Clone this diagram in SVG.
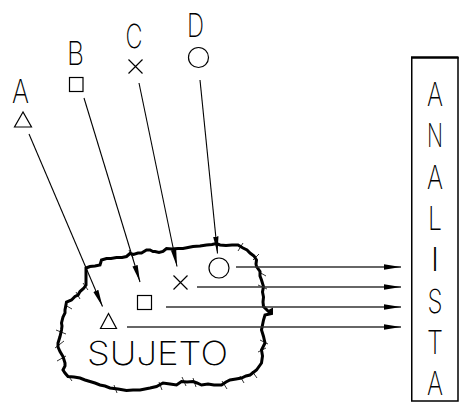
<svg xmlns="http://www.w3.org/2000/svg" width="460" height="406" viewBox="0 0 460 406">
<defs>
<style>
.lbl{font-family:Inter,Lato,"Noto Sans","DejaVu Sans",sans-serif;font-weight:200;font-size:33px;fill:#000;text-anchor:middle}
.tx{opacity:0.995}
.sym{fill:none;stroke:#000;stroke-width:1.2}
.ld{fill:none;stroke:#000;stroke-width:1.1}
.hz{fill:none;stroke:#333;stroke-width:1.3}
.tick{stroke:#000;stroke-width:0.8}
</style>
<marker id="ah" markerWidth="18" markerHeight="8" refX="17" refY="3.5" orient="auto" markerUnits="userSpaceOnUse">
<path d="M0,0.8 L17,3.5 L0,6.2 Z" fill="#000"/>
</marker>
</defs>
<rect width="460" height="406" fill="#fff"/>

<g id="label-A">
<text class="lbl tx" x="20.5" y="103" textLength="17" lengthAdjust="spacingAndGlyphs">A</text>
<polygon class="sym" points="23,112 14.5,127 31.5,127"/>
</g>
<g id="label-B">
<text class="lbl tx" x="75.5" y="65" textLength="17" lengthAdjust="spacingAndGlyphs">B</text>
<rect class="sym" x="69.5" y="77.5" width="13.5" height="14"/>
</g>
<g id="label-C">
<text class="lbl tx" x="134" y="48" textLength="17" lengthAdjust="spacingAndGlyphs">C</text>
<path class="sym" d="M128.5,59.5 L142.5,73.5 M142.5,59.5 L128.5,73.5"/>
</g>
<g id="label-D">
<text class="lbl tx" x="195.5" y="37" textLength="17" lengthAdjust="spacingAndGlyphs">D</text>
<circle class="sym" cx="198.5" cy="57.5" r="10"/>
</g>

<g id="sujeto">
<path fill="none" stroke="#000" stroke-width="3" stroke-linejoin="miter" d="M86,268 L90,266.5 L95,266 L100,265 L101.5,260 L106.5,258.5 L111,258.5 L116.5,257.5 L122,257.5 L126.5,256.5 L130,253.5 L133.5,254.5 L138,253 L141.5,253 L146.5,250 L150,250 L153,251.5 L155,251.5 L159,252.5 L163,251.5 L166.5,248.5 L172,249 L178,248.5 L183,248.5 L188,247.5 L193,246.5 L200,246 L206.5,245 L212,244.5 L216.5,243.5 L220,245 L226,245.5 L232,245 L238,245 L243,248 L247,250 L250,253 L254,256 L256.5,260 L256,264 L256.5,266.5 L260,271.5 L260,276 L261.5,280 L263.5,286.5 L262.5,292 L263.5,297 L263,302 L263.5,306.5 L268.5,311.5 L271.5,310 L271.5,313.5 L265,315 L263.5,320 L262.5,325 L261.5,330 L263.5,336.5 L265,343 L261.5,350 L262.5,356 L261.5,363 L256.5,370 L250,375 L246,376 L241.5,378 L236,379 L230,380 L226,382 L221.5,385 L214,385 L208,384 L201.5,385 L197,383 L193,381.5 L187,382 L181.5,381.5 L176.5,385 L170,384 L163,383 L156.5,386.5 L150,388 L145,389 L140,390 L133,390 L126.5,390.5 L118,389 L110,388 L105,386 L100,385 L95,383 L90,381.5 L85,380 L80,378 L74,377 L68,376.5 L65,373 L63,370 L65,366 L65,363 L63,356.5 L60,351.5 L58,347 L58,343 L60,336.5 L61.5,330 L62,326 L61.5,323 L63,317 L65,313 L65,310 L66.5,302 L71.5,300 L75,296.5 L78,295 L80,291.5 L83.5,288.5 L86,285 L86,276 Z"/>
<g class="tick">
<line x1="238" y1="251" x2="243" y2="243"/>
<line x1="253" y1="260" x2="259" y2="254"/>
<line x1="258" y1="285" x2="267" y2="289"/>
<line x1="259" y1="272" x2="266" y2="276"/>
<line x1="260" y1="340" x2="268" y2="344"/>
<line x1="258" y1="352" x2="266" y2="348"/>
<line x1="252" y1="371" x2="257" y2="378"/>
<line x1="240" y1="376" x2="244" y2="383"/>
<line x1="222" y1="381" x2="227" y2="389"/>
<line x1="193" y1="378" x2="196" y2="387"/>
<line x1="182" y1="377" x2="186" y2="386"/>
<line x1="159" y1="382" x2="162" y2="390"/>
<line x1="114" y1="385" x2="117" y2="393"/>
<line x1="67" y1="374" x2="72" y2="381"/>
<line x1="55" y1="348" x2="64" y2="341"/>
<line x1="57" y1="361" x2="66" y2="356"/>
<line x1="56" y1="330" x2="66" y2="334"/>
<line x1="65" y1="305" x2="72" y2="309"/>
<line x1="76" y1="292" x2="80" y2="299"/>
<line x1="83" y1="283" x2="88" y2="290"/>
<line x1="129" y1="250" x2="133" y2="258"/>
</g>
<polygon class="sym" points="108.5,313.5 100.5,328.5 116.5,328.5"/>
<rect class="sym" x="137.5" y="295.5" width="14" height="14"/>
<path class="sym" d="M173.5,275.5 L187.5,289.5 M187.5,275.5 L173.5,289.5"/>
<circle class="sym" cx="219" cy="268" r="10"/>
<text class="lbl tx" x="157.5" y="365" textLength="141" lengthAdjust="spacingAndGlyphs">SUJETO</text>
</g>

<g id="analista">
<path fill="none" stroke="#000" stroke-width="1.5" d="M411.75,57 L411.75,401 L458,401 L458,57"/>
<line x1="411" y1="57.5" x2="458.5" y2="57.5" stroke="#000" stroke-width="2.5"/>
<g class="tx">
<text class="lbl" x="435" y="106" textLength="16" lengthAdjust="spacingAndGlyphs">A</text>
<text class="lbl" x="435" y="147" textLength="16" lengthAdjust="spacingAndGlyphs">N</text>
<text class="lbl" x="435" y="188.5" textLength="16" lengthAdjust="spacingAndGlyphs">A</text>
<text class="lbl" x="435" y="230" textLength="14" lengthAdjust="spacingAndGlyphs">L</text>
<text class="lbl" x="435" y="271" textLength="10" lengthAdjust="spacingAndGlyphs">I</text>
<text class="lbl" x="435" y="312.5" textLength="15" lengthAdjust="spacingAndGlyphs">S</text>
<text class="lbl" x="435" y="354" textLength="16" lengthAdjust="spacingAndGlyphs">T</text>
<text class="lbl" x="435" y="395" textLength="16" lengthAdjust="spacingAndGlyphs">A</text>
</g>
</g>

<g id="connectors">
<line class="ld" x1="29" y1="134" x2="102.5" y2="306.5" marker-end="url(#ah)"/>
<line class="ld" x1="84" y1="98" x2="140" y2="282" marker-end="url(#ah)"/>
<line class="ld" x1="139" y1="83" x2="177" y2="266.5" marker-end="url(#ah)"/>
<line class="ld" x1="200" y1="80" x2="217.5" y2="253.5" marker-end="url(#ah)"/>
<line class="hz" x1="236" y1="267" x2="401" y2="267" marker-end="url(#ah)"/>
<line class="hz" x1="197" y1="287" x2="401" y2="287" marker-end="url(#ah)"/>
<line class="hz" x1="166" y1="307" x2="401" y2="307" marker-end="url(#ah)"/>
<line class="hz" x1="127" y1="327" x2="401" y2="327" marker-end="url(#ah)"/>
</g>
</svg>
